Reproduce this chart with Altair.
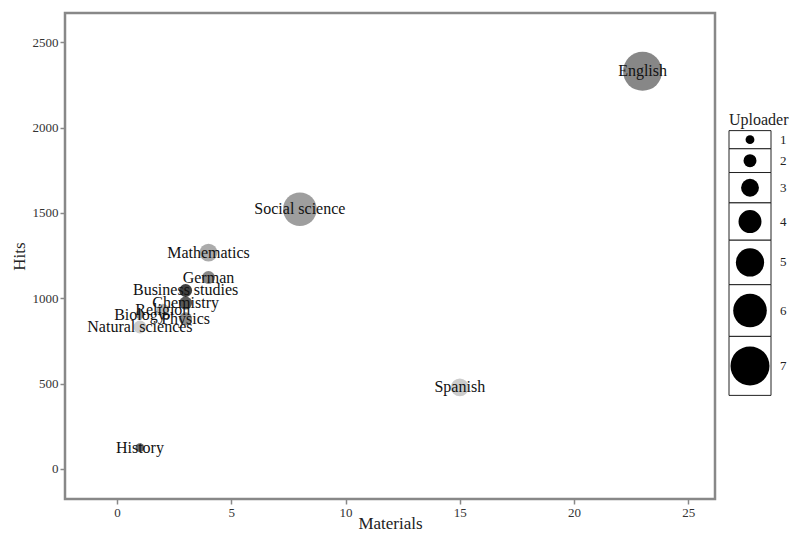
import altair as alt
import pandas as pd

subjects = ["English", "Social science", "Mathematics", "German", "Business studies",
            "Chemistry", "Religion", "Physics", "Biology", "Natural sciences",
            "Spanish", "History"]
materials = [23, 8, 4, 4, 3, 3, 2, 3, 1, 1, 15, 1]
hits = [2330, 1522, 1268, 1122, 1046, 972, 930, 880, 905, 832, 478, 125]
uploaders = [7, 6, 3, 2, 2, 2, 2, 2, 1, 2, 3, 1]
shade = [47, 38, 33, 47, 75, 65, 27, 45, 40, 20, 20, 60]

uploader_levels = [1, 2, 3, 4, 5, 6, 7]

df = pd.DataFrame({"Subject": subjects, "Materials": materials, "Hits": hits,
                   "Uploader": uploaders, "Shade": shade})
leg = pd.DataFrame({"Uploader": uploader_levels})

FONT = "Liberation Serif"
size_scale = alt.Scale(type="pow", exponent=2, domain=[1, 7], range=[78, 1520], zero=False)

PW, PH = 650, 486

base = alt.Chart(df)
points = base.mark_circle(color="black").encode(
    x=alt.X("Materials:Q", scale=alt.Scale(domain=[-2.28, 26.17], nice=False, zero=False),
            axis=alt.Axis(values=[0, 5, 10, 15, 20, 25], title="Materials", format="d")),
    y=alt.Y("Hits:Q", scale=alt.Scale(domain=[-176, 2672], nice=False, zero=False),
            axis=alt.Axis(values=[0, 500, 1000, 1500, 2000, 2500], title="Hits", format="d")),
    size=alt.Size("Uploader:Q", scale=size_scale, legend=None),
    opacity=alt.Opacity("Shade:Q", scale=alt.Scale(domain=[0, 100], range=[0, 1]), legend=None),
)
labels = base.mark_text(font=FONT, fontSize=16, color="#111111", align="center", baseline="middle").encode(
    x="Materials:Q", y="Hits:Q", text="Subject:N"
)
main = alt.layer(points, labels).properties(
    width=PW, height=PH,
    view=alt.ViewBackground(stroke="#888888", strokeWidth=2.5),
)

lbase = alt.Chart(leg).transform_calculate(
    area="78 + 1442 * (datum.Uploader * datum.Uploader - 1) / 48"
).transform_calculate(
    d="sqrt(datum.area * 4 / PI)"
).transform_calculate(
    h="datum.d * 1.2 + 6.2"
).transform_window(
    cum="sum(h)", sort=[alt.SortField("Uploader")], frame=[None, 0]
).transform_joinaggregate(
    total="sum(h)"
).transform_calculate(
    y1=f"({PH} - datum.total) / 2 + 7 + datum.cum"
).transform_calculate(
    y0="datum.y1 - datum.h", ymid="datum.y1 - datum.h / 2"
)

boxes = lbase.mark_rect(fill="white", stroke="#222222", strokeWidth=1).encode(
    x=alt.value(0), x2=alt.value(42),
    y=alt.Y("y0:Q", scale=None), y2="y1:Q",
)
dots = lbase.mark_circle(color="black", opacity=1).encode(
    x=alt.value(21), y=alt.Y("ymid:Q", scale=None),
    size=alt.Size("Uploader:Q", scale=size_scale, legend=None),
)
ltext = lbase.mark_text(font=FONT, fontSize=13, color="#222", align="left", baseline="middle").encode(
    x=alt.value(51), y=alt.Y("ymid:Q", scale=None), text="Uploader:N"
)
ltitle = lbase.transform_filter("datum.Uploader == 1").mark_text(
    font=FONT, fontSize=16, color="#222", align="left", baseline="bottom", dy=-3
).encode(
    x=alt.value(0), y=alt.Y("y0:Q", scale=None), text=alt.value("Uploader")
)
legend = alt.layer(boxes, dots, ltext, ltitle).properties(
    width=42, height=PH, view=alt.ViewBackground(stroke=None)
)

chart = alt.hconcat(main, legend, spacing=11).properties(
    padding={"left": 0, "top": 3, "right": 2, "bottom": 0}
).configure_view(stroke=None).configure_axis(
    grid=False, domain=False, labelFont=FONT, labelFontSize=13, labelColor="#333333",
    tickColor="#888888", tickWidth=1.5, tickSize=5, labelPadding=2,
    titleFont=FONT, titleFontSize=17, titleFontWeight="normal", titleColor="#222222",
).configure_axisY(titlePadding=4).configure_axisX(titlePadding=-4)

chart.save("out.html", embed_options={"renderer": "svg", "actions": False})
